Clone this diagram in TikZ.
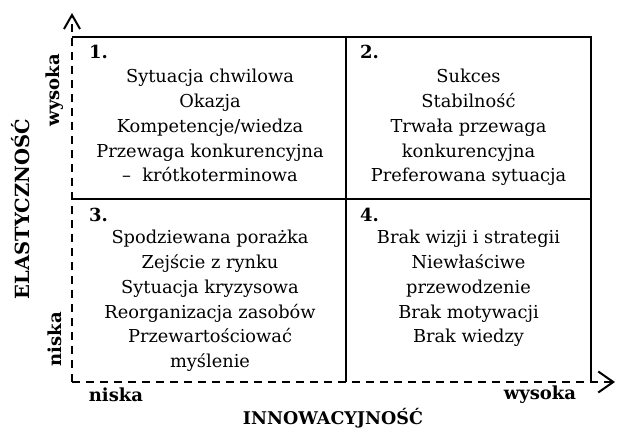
\documentclass[tikz,border=0pt]{standalone}
\usepackage{fontspec}
\setmainfont{DejaVu Serif}
\usetikzlibrary{arrows.meta}
\begin{document}
\begin{tikzpicture}[x=1pt,y=-1pt,
  grid/.style={line width=2.2pt},
  axis/.style={line width=2.2pt, dash pattern=on 8pt off 6pt},
  qtext/.style={align=center, anchor=north, inner sep=0pt, font=\fontsize{17.8}{24.8}\selectfont},
  qnum/.style={anchor=base west, inner sep=0pt, font=\fontsize{18}{20}\selectfont\bfseries},
  lbl/.style={inner sep=0pt, font=\fontsize{18}{20}\selectfont\bfseries}]
\useasboundingbox (0,0) rectangle (617,430);
\coordinate (O) at (72,382);
\coordinate (ytip) at (72,13);
\coordinate (xtip) at (615,382);
\coordinate (tl) at (72,37);
\coordinate (tr) at (591,37);
\coordinate (br) at (591,382);
\coordinate (tm) at (346,37);
\coordinate (bm) at (346,382);
\coordinate (ml) at (72,199);
\coordinate (mr) at (591,199);
\draw[grid] (tl) -- (tr) -- (br);
\draw[grid] (tm) -- (bm);
\draw[grid] (ml) -- (mr);
\draw[axis,-{Straight Barb[length=14pt,width=16pt,line width=2pt]}] (O) -- (ytip);
\draw[axis,-{Straight Barb[length=15pt,width=21pt,line width=2pt]}] (O) -- (xtip);
\node[qnum] (n1) at (89,59) {1.};
\node[qnum] (n2) at (360,59) {2.};
\node[qnum] (n3) at (89,221) {3.};
\node[qnum] (n4) at (360,221) {4.};
\node[qtext] (q1) at (210,69) {Sytuacja chwilowa\\Okazja\\Kompetencje/wiedza\\Przewaga konkurencyjna\\–\ \ krótkoterminowa};
\node[qtext] (q2) at (468.5,69) {Sukces\\Stabilność\\Trwała przewaga\\konkurencyjna\\Preferowana sytuacja};
\node[qtext] (q3) at (210,230) {Spodziewana porażka\\Zejście z rynku\\Sytuacja kryzysowa\\Reorganizacja zasobów\\Przewartościować\\myślenie};
\node[qtext] (q4) at (468.5,230) {Brak wizji i strategii\\Niewłaściwe\\przewodzenie\\Brak motywacji\\Brak wiedzy};
\node[lbl,rotate=90] (yh) at (55,90) {wysoka};
\node[lbl,rotate=90] (yl) at (55,339) {niska};
\node[lbl,rotate=90,font=\fontsize{19.5}{22}\selectfont\bfseries] (ya) at (21,209) {ELASTYCZNOŚĆ};
\node[lbl] (xl) at (116,395) {niska};
\node[lbl] (xh) at (540,395) {wysoka};
\node[lbl,font=\fontsize{17.5}{20}\selectfont\bfseries] (xa) at (333,418) {INNOWACYJNOŚĆ};
\end{tikzpicture}
\end{document}
